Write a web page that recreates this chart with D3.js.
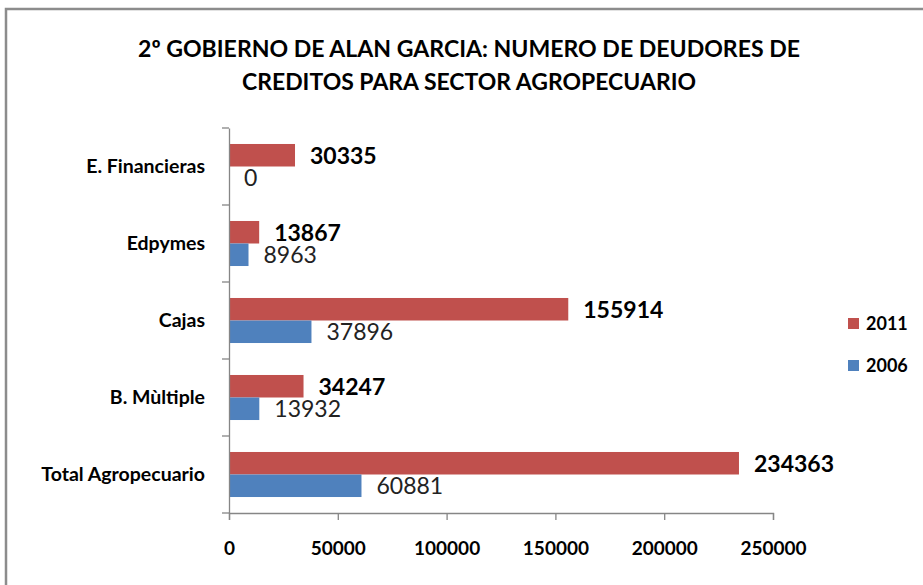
<!DOCTYPE html>
<html>
<head>
<meta charset="utf-8">
<script src="https://cdn.jsdelivr.net/npm/d3@7"></script>
<style>
  html, body { margin: 0; padding: 0; background: #fff; }
  svg { display: block; font-family: Lato, "Open Sans", sans-serif; }
</style>
</head>
<body>
<svg id="chart" width="923" height="585"></svg>
<script>
// Entidades financieras (de arriba hacia abajo)
const categories = ["E. Financieras", "Edpymes", "Cajas", "B. Mùltiple", "Total Agropecuario"];
const years = ["2011", "2006"];
const values2011 = [30335, 13867, 155914, 34247, 234363];
const values2006 = [0, 8963, 37896, 13932, 60881];
const xTicks = [0, 50000, 100000, 150000, 200000, 250000];
const titleLines = [
  "2º GOBIERNO DE ALAN GARCIA: NUMERO DE DEUDORES DE",
  "CREDITOS PARA SECTOR AGROPECUARIO"
];

const colors = { "2011": "#C0504D", "2006": "#4F81BD" };
const axisColor = "#868686";

const svg = d3.select("#chart");

// Chart frame
svg.append("path")
  .attr("d", "M6,585 V9 H923")
  .attr("fill", "none")
  .attr("stroke", "#8c8c8c")
  .attr("stroke-width", 2.5);

// Title
const title = svg.append("g").attr("font-weight", 700).attr("fill", "#000");
title.selectAll("text").data(titleLines).join("text")
  .attr("x", 469)
  .attr("y", (d, i) => 57 + i * 33)
  .attr("text-anchor", "middle")
  .attr("font-size", 23)
  .attr("textLength", (d, i) => i === 0 ? 662 : 454)
  .attr("lengthAdjust", "spacingAndGlyphs")
  .text(d => d);

// Scales
const x = d3.scaleLinear().domain([0, 250000]).range([229, 773]);
const y = d3.scaleBand().domain(categories).range([128, 513]).padding(0);
const ySub = d3.scaleBand().domain(years).range([0, y.bandwidth()]).paddingInner(0).paddingOuter(0.71);

const rows = categories.map((c, i) => ({
  category: c,
  series: [
    { year: "2011", value: values2011[i] },
    { year: "2006", value: values2006[i] }
  ]
}));

// Bars
const groups = svg.append("g").selectAll("g").data(rows).join("g")
  .attr("transform", d => `translate(0,${y(d.category)})`);

groups.selectAll("rect").data(d => d.series).join("rect")
  .attr("x", x(0))
  .attr("y", d => ySub(d.year))
  .attr("width", d => x(d.value) - x(0))
  .attr("height", ySub.bandwidth())
  .attr("fill", d => colors[d.year]);

// Value labels
groups.selectAll("text").data(d => d.series).join("text")
  .attr("x", d => x(d.value) + 15)
  .attr("y", d => ySub(d.year) + ySub.bandwidth() / 2)
  .attr("dy", "0.36em")
  .attr("font-size", 23)
  .attr("font-weight", d => d.year === "2011" ? 700 : 400)
  .attr("fill", d => d.year === "2011" ? "#000" : "#222")
  .text(d => d.value);

// X axis
const xAxis = svg.append("g")
  .attr("transform", `translate(0,${513})`)
  .call(d3.axisBottom(x).tickValues(xTicks).tickSize(7).tickSizeOuter(7).tickPadding(22).tickFormat(d3.format("d")));
xAxis.select(".domain").attr("stroke", axisColor).attr("stroke-width", 1.3);
xAxis.selectAll(".tick line").attr("stroke", axisColor).attr("stroke-width", 1.3);
xAxis.selectAll(".tick text")
  .attr("font-family", "Lato, 'Open Sans', sans-serif")
  .attr("font-size", 19)
  .attr("font-weight", 700)
  .attr("fill", "#000");

// Y axis (labels centred on bands, ticks on band boundaries)
const yAxis = svg.append("g")
  .attr("transform", `translate(${229},0)`)
  .call(d3.axisLeft(y).tickSize(0).tickPadding(24));
yAxis.select(".domain").attr("stroke", axisColor).attr("stroke-width", 1.3);
yAxis.selectAll(".tick text")
  .attr("font-family", "Lato, 'Open Sans', sans-serif")
  .attr("font-size", 19.5)
  .attr("font-weight", 700)
  .attr("fill", "#000");

const boundaries = categories.map(c => y(c)).concat([y.range()[1]]);
yAxis.append("g").selectAll("line").data(boundaries).join("line")
  .attr("x1", -7).attr("x2", 0)
  .attr("y1", d => d).attr("y2", d => d)
  .attr("stroke", axisColor)
  .attr("stroke-width", 1.3);

// Legend
const legend = svg.append("g").attr("transform", "translate(848,318)");
const legendItems = legend.selectAll("g").data(years).join("g")
  .attr("transform", (d, i) => `translate(0,${i * 42})`);
legendItems.append("rect")
  .attr("width", 11).attr("height", 11)
  .attr("fill", d => colors[d]);
legendItems.append("text")
  .attr("x", 18).attr("y", 5.5).attr("dy", "0.36em")
  .attr("font-size", 18).attr("font-weight", 700).attr("fill", "#000")
  .text(d => d);
</script>
</body>
</html>
